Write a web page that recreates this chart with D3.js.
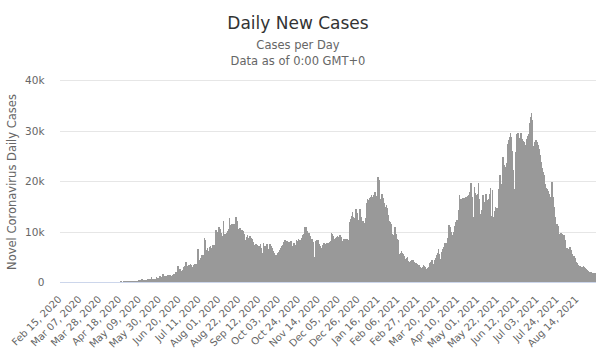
<!DOCTYPE html>
<html>
<head>
<meta charset="utf-8">
<script src="https://cdn.jsdelivr.net/npm/d3@7"></script>
<style>
body{margin:0;background:#fff;}
svg{display:block;font-family:"DejaVu Sans","Lucida Grande",sans-serif;}
</style>
</head>
<body>
<svg id="chart" width="596" height="358"></svg>
<script>
// ---- DATA ----
const startDate = "2020-02-15";
const titleText = "Daily New Cases";
const subtitleLines = ["Cases per Day", "Data as of 0:00 GMT+0"];
const yAxisTitle = "Novel Coronavirus Daily Cases";

// daily new cases, Feb 15 2020 .. Dec 31 2020
const cases2020 = [
  0,0,0,0,0,0,0,0,0,0,0,0,0,0,0,
  0,0,0,0,0,1,0,0,2,0,6,0,7,8,21,9,20,18,8,35,52,35,81,72,92,21,68,48,94,96,108,
  94,112,136,100,138,94,78,28,98,108,194,69,70,84,181,128,127,199,236,143,146,244,306,204,371,230,313,268,233,165,
  294,361,378,298,316,385,441,498,488,512,640,593,502,377,439,451,640,689,625,739,1050,609,659,633,714,1043,852,950,933,1194,1016,
  1182,1766,1349,1282,1226,1313,1466,1372,1421,1524,1386,1530,1685,1690,2166,1753,2055,3171,2616,2709,2225,2201,2437,3066,3209,4149,2979,3274,3483,3549,
  3751,3372,3136,3448,3176,3620,3273,3613,6644,4474,3758,4850,5400,4710,5500,8750,8400,6500,6800,6300,7000,7200,6900,7400,7300,7500,7200,10300,9500,10000,11000,
  10600,9800,9300,7200,12200,9700,9600,9900,10200,10500,12700,11400,11300,11500,11200,11600,11000,12900,12100,10500,8200,10700,10300,10400,10400,10100,9600,8400,9000,9400,7750,
  8800,9200,8900,8600,8100,5300,7400,7600,7400,7200,7100,7300,7600,6900,5800,7750,7200,7000,7300,7600,6600,5200,7600,7200,6800,6300,5800,5500,5100,5500,
  5800,6100,6500,6800,7200,7400,7900,8100,8400,8100,8300,8000,7100,8100,8200,6400,7300,7750,7400,7500,8400,8200,8700,8500,8400,8700,8900,9400,9700,10900,10900,
  10200,6100,9900,9300,8500,8700,8500,8100,5100,8300,8500,8500,8400,7600,7300,6100,6800,7400,7900,7600,7500,7750,7300,7900,8000,8300,9900,9600,9200,8700,
  8900,9000,9200,8800,9100,9400,9000,5700,8200,8700,8000,8600,8300,8700,8500,11900,12600,13200,13900,13000,12700,14600,14500,13800,9200,12400,14600,13000,11400,12200,11800
];
// daily new cases, Jan 1 2021 .. Sep 2 2021
const cases2021 = [
  9200,12800,15700,16600,16400,16700,16900,17300,17000,16000,17400,18000,15600,17200,20800,20300,16500,14600,17600,16800,15300,15800,15000,15300,14800,13300,12200,11900,11600,9700,9400,
  8700,10900,9700,8600,8400,5700,4100,5800,6300,5900,5600,5200,4750,4900,5100,4300,3800,4100,4300,4550,4400,4100,3800,3900,3600,3500,3400,3100,
  3100,2800,3000,3400,3300,3100,2600,2100,2800,3000,3800,4100,4400,2800,3600,4400,4900,5400,5900,6600,5600,4750,6100,6700,7100,7500,7900,7200,7800,8900,11400,
  11000,10000,9000,9400,10000,11200,12000,12300,12300,14300,17300,16600,16500,16700,16600,16800,16600,16900,17000,17100,17300,18000,19700,17000,16200,13000,18900,17800,17300,17600,
  19700,16500,11700,13500,14300,17300,16000,12700,17600,16300,16000,16600,17500,18800,13100,18300,13000,14200,15000,14800,14700,16800,18600,21300,19200,19600,24900,23200,20600,22800,23600,
  27500,28300,28800,29700,28800,26000,22200,18600,25900,28000,29500,29700,28700,27500,29700,28500,28000,27900,27200,23200,28500,29000,29500,31500,32800,33500,32100,25500,27000,27900,
  28200,27900,27300,26500,25200,23900,22700,21900,21300,20300,19500,18800,18600,18200,17600,17000,17600,19900,17000,15000,13000,11000,11600,11200,8700,9700,9800,9400,9700,9500,9400,
  8400,6900,6800,6700,6900,7100,6500,5700,4100,5200,4900,4100,3800,3500,3100,3200,3100,3100,3100,3200,3000,2800,2600,2400,2200,2100,2100,2000,1800,1900,1900,
  1800,1700
];

const tickLabels = [
  "Feb 15, 2020","Mar 07, 2020","Mar 28, 2020","Apr 18, 2020","May 09, 2020","May 30, 2020",
  "Jun 20, 2020","Jul 11, 2020","Aug 01, 2020","Aug 22, 2020","Sep 12, 2020","Oct 03, 2020",
  "Oct 24, 2020","Nov 14, 2020","Dec 05, 2020","Dec 26, 2020","Jan 16, 2021","Feb 06, 2021",
  "Feb 27, 2021","Mar 20, 2021","Apr 10, 2021","May 01, 2021","May 22, 2021","Jun 12, 2021",
  "Jul 03, 2021","Jul 24, 2021","Aug 14, 2021"
];
const yTicks = [0, 10000, 20000, 30000, 40000];
const yTickLabels = ["0", "10k", "20k", "30k", "40k"];

// ---- BUILD ----
const values = cases2020.concat(cases2021);
const start = d3.timeParse("%Y-%m-%d")(startDate);
const fmt = d3.timeFormat("%b %d, %Y");
const categories = values.map((v, i) => fmt(d3.timeDay.offset(start, i)));

const svg = d3.select("#chart");
const plotLeft = 60, plotRight = 596, plotTop = 80.5, plotBottom = 282.5;

const x = d3.scaleBand().domain(categories).range([plotLeft, plotRight]).padding(0);
const y = d3.scaleLinear().domain([0, 40000]).range([plotBottom, plotTop]);
const crisp = v => Math.floor(v) + 0.5;

// title
svg.append("text").attr("x", 298).attr("y", 28.5).attr("text-anchor", "middle")
  .attr("font-size", 17).attr("fill", "#333333").text(titleText);
svg.selectAll("text.sub").data(subtitleLines).enter().append("text")
  .attr("class", "sub").attr("x", 298).attr("y", (d, i) => 49 + i * 15.5)
  .attr("text-anchor", "middle").attr("font-size", 11.5).attr("fill", "#666666").text(d => d);

// gridlines
svg.append("g").selectAll("line").data(yTicks.filter(t => t > 0)).enter().append("line")
  .attr("x1", plotLeft).attr("x2", plotRight)
  .attr("y1", d => crisp(y(d))).attr("y2", d => crisp(y(d)))
  .attr("stroke", "#e6e6e6").attr("stroke-width", 1);

// bars
svg.append("g").attr("shape-rendering", "crispEdges")
  .selectAll("rect").data(values).enter().append("rect")
  .attr("x", (d, i) => x(categories[i]))
  .attr("width", x.bandwidth() + 0.6)
  .attr("y", d => y(d))
  .attr("height", d => Math.max(0, y(0) - y(d)))
  .attr("fill", "#999999");

// x axis line
svg.append("line").attr("x1", plotLeft).attr("x2", plotRight)
  .attr("y1", crisp(y(0))).attr("y2", crisp(y(0)))
  .attr("stroke", "#ccd6eb").attr("stroke-width", 1);

// y labels
svg.append("g").selectAll("text").data(yTicks).enter().append("text")
  .attr("x", 44.5).attr("y", d => y(d)).attr("dy", "0.35em")
  .attr("text-anchor", "end").attr("font-size", 10.5).attr("fill", "#666666")
  .text((d, i) => yTickLabels[i]);

// y title
svg.append("text").attr("transform", "translate(15.5,182) rotate(-90)")
  .attr("text-anchor", "middle").attr("font-size", 11.5).attr("fill", "#666666").text(yAxisTitle);

// x labels
svg.append("g").selectAll("text").data(tickLabels).enter().append("text")
  .attr("transform", d => `translate(${x(d) + x.bandwidth() / 2 + 1.8},300) rotate(-45)`)
  .attr("text-anchor", "end").attr("font-size", 10).attr("fill", "#666666").text(d => d);
</script>
</body>
</html>
